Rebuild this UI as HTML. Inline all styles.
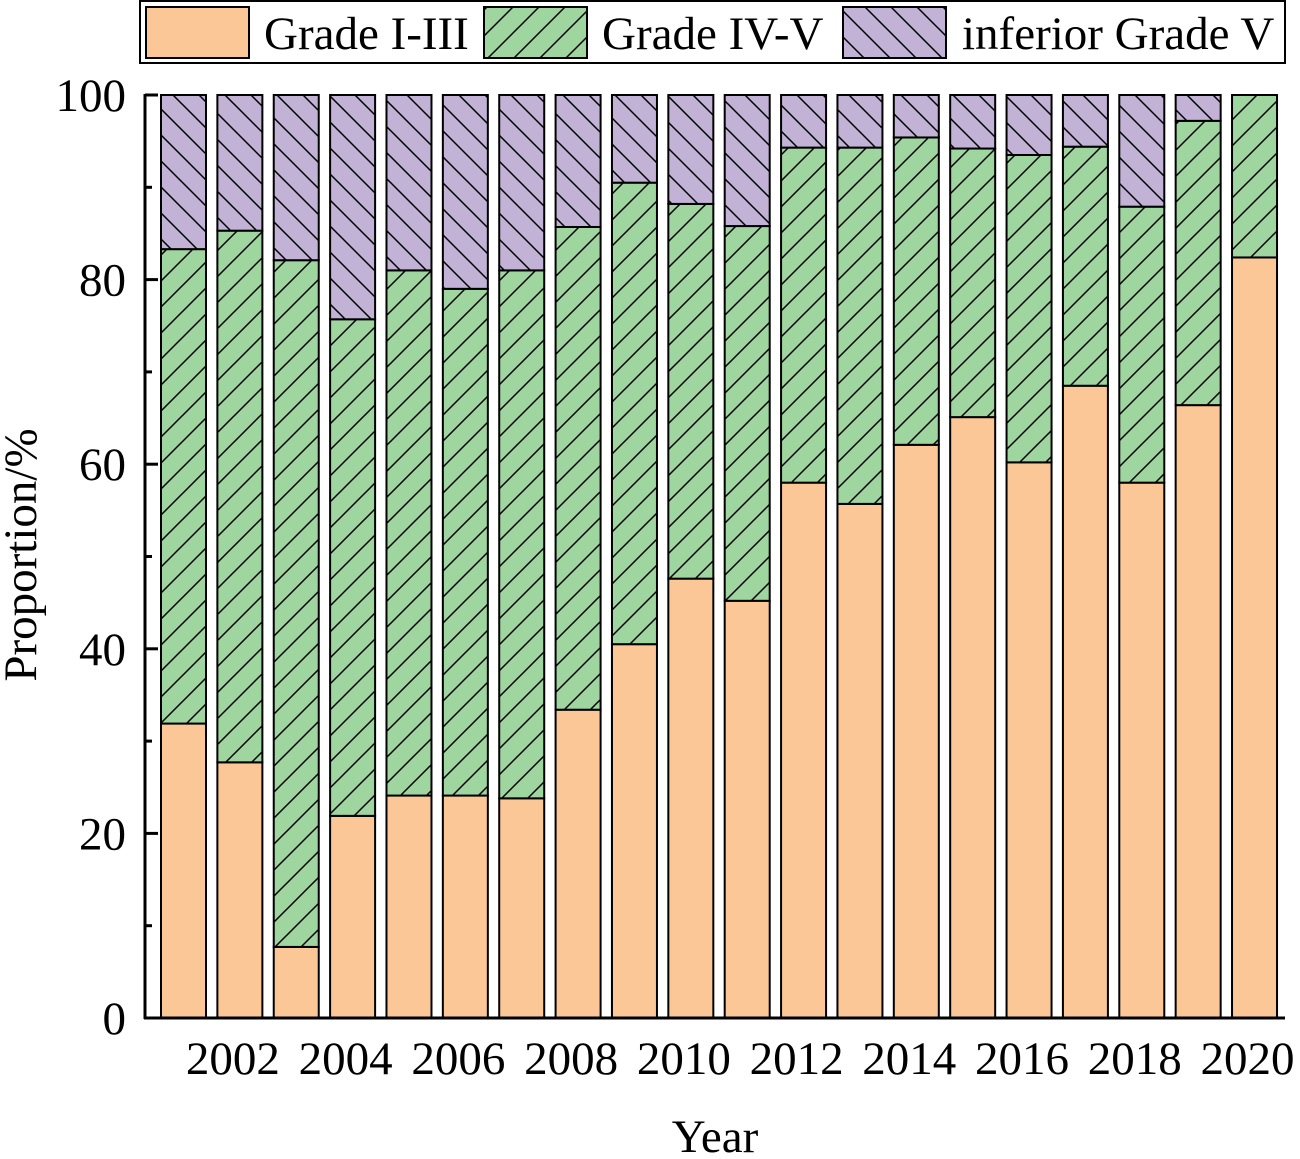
<!DOCTYPE html>
<html><head><meta charset="utf-8"><style>
body{margin:0;background:#fff}
svg text{font-family:"Liberation Serif",serif;fill:#000}
</style></head><body>
<svg id="chart" width="1300" height="1154" xmlns="http://www.w3.org/2000/svg">
<defs>
<pattern id="fwd" patternUnits="userSpaceOnUse" width="26" height="26"><rect width="26" height="26" fill="#9FD69F"/><path d="M-2,28 L28,-2 M-8,8 L8,-8 M18,34 L34,18" stroke="#000" stroke-width="1.5"/></pattern>
<pattern id="bwd" patternUnits="userSpaceOnUse" width="26" height="26"><rect width="26" height="26" fill="#C2B2D6"/><path d="M-2,-2 L28,28 M18,-8 L34,8 M-8,18 L8,34" stroke="#000" stroke-width="1.5"/></pattern>
</defs>
<g id="legend">
<rect x="140" y="1" width="1145" height="62" fill="#fff" stroke="#000" stroke-width="2"/>
<rect x="146" y="7" width="103" height="51" fill="#FBC797" stroke="#000" stroke-width="2"/>
<text x="264" y="49" font-size="47">Grade I-III</text>
<rect x="484" y="7" width="103" height="51" fill="url(#fwd)" stroke="#000" stroke-width="2"/>
<text x="602" y="49" font-size="47">Grade IV-V</text>
<rect x="843" y="7" width="103" height="51" fill="url(#bwd)" stroke="#000" stroke-width="2"/>
<text x="962" y="49" font-size="47">inferior Grade V</text>
</g>
<g id="bars"></g>
<g id="axes"></g>
<text transform="translate(36,555) rotate(-90)" text-anchor="middle" font-size="47">Proportion/%</text>
<text x="715" y="1152" text-anchor="middle" font-size="47">Year</text>
</svg>
<script>
const years=[2001,2002,2003,2004,2005,2006,2007,2008,2009,2010,2011,2012,2013,2014,2015,2016,2017,2018,2019,2020];
const gradeI_III=[31.9,27.7,7.7,21.9,24.1,24.1,23.8,33.4,40.5,47.6,45.2,58.0,55.7,62.1,65.1,60.2,68.5,58.0,66.4,82.4];
const cumulativeToIV_V=[83.3,85.3,82.1,75.7,81.0,79.0,81.0,85.7,90.5,88.2,85.8,94.3,94.3,95.4,94.2,93.5,94.4,87.9,97.2,100];
const yTicks=[0,20,40,60,80,100];
const xTickYears=[2002,2004,2006,2008,2010,2012,2014,2016,2018,2020];

const NS="http://www.w3.org/2000/svg";
const y0=1018,y100=95,firstC=183.5,step=56.37,bw=45;
const yS=v=>y0-(v/100)*(y0-y100);
const xS=yr=>firstC+(yr-years[0])*step;
function mk(tag,attrs,parent){const e=document.createElementNS(NS,tag);for(const k in attrs)e.setAttribute(k,attrs[k]);parent.appendChild(e);return e;}
const bars=document.getElementById('bars');
years.forEach((yr,i)=>{
  const x=xS(yr)-bw/2;
  const segs=[[0,gradeI_III[i],'#FBC797','grade-i-iii'],[gradeI_III[i],cumulativeToIV_V[i],'url(#fwd)','grade-iv-v'],[cumulativeToIV_V[i],100,'url(#bwd)','inferior-grade-v']];
  segs.forEach(s=>{
    if(s[1]-s[0]<=0.01)return;
    const r=mk('rect',{x:x,y:yS(s[1]),width:bw,height:yS(s[0])-yS(s[1]),fill:s[2],stroke:'#000','stroke-width':2},bars);
    
    
  });
});
const ax=document.getElementById('axes');
const yl=mk('line',{x1:145,y1:y100-1,x2:145,y2:y0+1,stroke:'#000','stroke-width':3},ax);


const xl=mk('line',{x1:144,y1:y0,x2:1285,y2:y0,stroke:'#000','stroke-width':3},ax);


yTicks.forEach(v=>{
  mk('line',{x1:145,y1:yS(v),x2:158,y2:yS(v),stroke:'#000','stroke-width':3},ax);
  if(v<100) mk('line',{x1:145,y1:yS(v+10),x2:152,y2:yS(v+10),stroke:'#000','stroke-width':3},ax);
  const t=mk('text',{x:126,y:yS(v)+16,'text-anchor':'end','font-size':47},ax);
  t.textContent=v;
  
  
});
xTickYears.forEach(yr=>{
  const t=mk('text',{x:xS(yr)-7,y:1074,'text-anchor':'middle','font-size':47},ax);
  t.textContent=yr;
  
  
});
</script>
</body></html>
